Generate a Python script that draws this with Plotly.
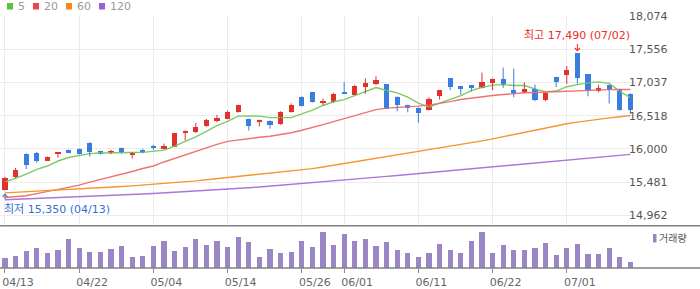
import plotly.graph_objects as go

dates = ["04/13", "04/14", "04/15", "04/16", "04/17", "04/20", "04/21", "04/22", "04/23", "04/24",
         "04/27", "04/28", "04/29", "04/30", "05/04", "05/06", "05/07", "05/08", "05/11", "05/12",
         "05/13", "05/14", "05/15", "05/18", "05/19", "05/20", "05/21", "05/22", "05/26", "05/27",
         "05/28", "05/29", "06/01", "06/02", "06/04", "06/05", "06/08", "06/09", "06/10", "06/11",
         "06/12", "06/15", "06/16", "06/17", "06/18", "06/19", "06/22", "06/23", "06/24", "06/25",
         "06/26", "06/29", "06/30", "07/01", "07/02", "07/03", "07/06", "07/07", "07/08", "07/09"]

opens = [15350, 15555, 15921, 15937, 15815, 15930, 15984, 16000, 16098, 15963,
         15932, 16015, 15922, 15968, 16030, 16000, 16036, 16240, 16267, 16350,
         16440, 16471, 16570, 16466, 16433, 16440, 16381, 16570, 16817, 16880,
         16725, 16727, 16872, 16848, 16963, 17005, 17005, 16817, 16686, 16644,
         16601, 16821, 17100, 16974, 16989, 16947, 17026, 17084, 16911, 16884,
         16942, 16770, 17120, 17147, 17490, 17167, 16906, 16994, 16937, 16864]
highs = [15564, 15701, 15930, 15950, 15880, 15945, 15990, 16005, 16105, 15973,
         15984, 16020, 15947, 16000, 16062, 16083, 16250, 16290, 16403, 16466,
         16529, 16597, 16690, 16470, 16455, 16445, 16586, 16707, 16820, 16885,
         16785, 16875, 17041, 17000, 17100, 17131, 17010, 16820, 16690, 16648,
         16806, 16915, 17105, 16978, 16993, 17189, 17100, 17268, 17252, 17041,
         17005, 16878, 17124, 17293, 17490, 17170, 17000, 17005, 16940, 16867]
lows = [15350, 15545, 15685, 15784, 15810, 15862, 15932, 15910, 15878, 15910,
        15916, 15925, 15847, 15932, 15984, 15995, 16030, 16130, 16246, 16345,
        16413, 16465, 16565, 16287, 16350, 16314, 16376, 16565, 16660, 16722,
        16680, 16722, 16860, 16845, 16859, 16994, 16625, 16586, 16570, 16408,
        16598, 16770, 16916, 16848, 16895, 16944, 16916, 16953, 16806, 16880,
        16743, 16743, 16963, 17016, 17016, 16821, 16884, 16707, 16598, 16549]
closes = [15548, 15669, 15753, 15815, 15874, 15937, 15941, 15925, 15948, 15925,
          15968, 15941, 15930, 15960, 16023, 16047, 16246, 16282, 16340, 16455,
          16487, 16581, 16686, 16361, 16440, 16372, 16570, 16691, 16664, 16727,
          16733, 16859, 16864, 16974, 17021, 17068, 16628, 16680, 16633, 16554,
          16781, 16911, 16963, 16942, 16947, 17041, 17084, 16994, 16884, 16942,
          16770, 16875, 17037, 17225, 17104, 16911, 16947, 16926, 16601, 16612]
volumes = [100000, 123000, 173000, 203000, 153000, 183000, 293000, 203000, 163000, 163000,
           193000, 223000, 113000, 123000, 223000, 273000, 173000, 213000, 293000, 233000,
           273000, 213000, 313000, 263000, 113000, 193000, 153000, 163000, 273000, 213000,
           363000, 233000, 343000, 273000, 293000, 223000, 263000, 183000, 153000, 113000,
           153000, 243000, 183000, 153000, 273000, 363000, 153000, 233000, 183000, 183000,
           203000, 253000, 133000, 203000, 243000, 143000, 143000, 203000, 113000, 63000]

ma5 = [15485, 15538, 15606, 15680, 15732, 15810, 15864, 15898, 15925, 15935,
       15941, 15941, 15942, 15945, 15964, 15980, 16041, 16112, 16188, 16274,
       16362, 16429, 16510, 16514, 16511, 16488, 16486, 16487, 16547, 16605,
       16677, 16735, 16769, 16831, 16890, 16957, 16911, 16874, 16806, 16713,
       16655, 16712, 16768, 16830, 16909, 16961, 16995, 17002, 16990, 16989,
       16935, 16893, 16902, 16970, 17002, 17030, 17045, 17023, 16898, 16799]
ma20 = [15240, 15253, 15268, 15300, 15331, 15363, 15394, 15434, 15481, 15520,
        15559, 15606, 15646, 15693, 15732, 15795, 15850, 15905, 15968, 16015,
        16070, 16117, 16141, 16164, 16180, 16196, 16219, 16251, 16290, 16329,
        16377, 16424, 16471, 16518, 16565, 16612, 16636, 16644, 16652, 16667,
        16683, 16707, 16738, 16770, 16793, 16817, 16832, 16848, 16864, 16875,
        16880, 16887, 16895, 16903, 16911, 16919, 16922, 16925, 16927, 16927]
ma60 = [15312, 15320, 15328, 15336, 15344, 15353, 15363, 15371, 15380, 15390,
        15400, 15411, 15422, 15434, 15443, 15454, 15468, 15484, 15500, 15517,
        15534, 15551, 15569, 15586, 15603, 15621, 15638, 15655, 15672, 15691,
        15716, 15743, 15767, 15795, 15822, 15848, 15875, 15900, 15927, 15952,
        15980, 16009, 16037, 16065, 16094, 16125, 16156, 16191, 16227, 16262,
        16296, 16331, 16364, 16392, 16417, 16443, 16463, 16483, 16502, 16521]
ma120 = [15206, 15212, 15218, 15225, 15232, 15239, 15245, 15251, 15258, 15264,
         15272, 15278, 15286, 15294, 15303, 15312, 15322, 15331, 15341, 15350,
         15360, 15369, 15380, 15393, 15405, 15418, 15430, 15443, 15455, 15470,
         15484, 15498, 15512, 15526, 15540, 15555, 15570, 15584, 15599, 15613,
         15628, 15643, 15657, 15672, 15687, 15701, 15715, 15731, 15746, 15760,
         15776, 15792, 15806, 15822, 15836, 15852, 15866, 15881, 15897, 15913]

price_ticks = [14962, 15481, 16000, 16518, 17037, 17556, 18074]
price_tick_text = ["14,962", "15,481", "16,000", "16,518", "17,037", "17,556", "18,074"]
date_ticks = ["04/13", "04/22", "05/04", "05/14", "05/26", "06/01", "06/11", "06/22", "07/01"]
ma_names = ["5", "20", "60", "120"]
ma_line_colors = ["#7ccb63", "#f07272", "#f7962f", "#ab76d6"]
ma_key_colors = ["#5cbf3f", "#ee4646", "#f7891c", "#9b5fd0"]
volume_label = "거래량"
high_label = "최고 17,490 (07/02)"
low_label = "최저 15,350 (04/13)"

RED = "#e0312d"
BLUE = "#3a7de0"
VOL = "#9a86c5"
FONT = "DejaVu Sans, Noto Sans CJK KR, sans-serif"

# plot-area geometry helpers (for decorations only)
W, H = 700, 289
ML, MR, MT, MB = 0, 64, 16, 21
PW, PH = W - ML - MR, H - MT - MB


def pxx(x):
    return (x - ML) / PW


def pyy(y):
    return (H - MB - y) / PH


split = pyy(225.7)

fig = go.Figure()

# moving averages
for vals, name, col in zip([ma5, ma20, ma60, ma120], ma_names, ma_line_colors):
    fig.add_trace(go.Scatter(x=dates, y=vals, mode="lines", name=name,
                             line=dict(color=col, width=1.4), hoverinfo="skip",
                             showlegend=False, xaxis="x", yaxis="y"))

# wicks and bodies
for up, col in [(True, RED), (False, BLUE)]:
    wx, wy = [], []
    bx, bbase, bh = [], [], []
    for d, o, h, l, c in zip(dates, opens, highs, lows, closes):
        if (c >= o) != up:
            continue
        wx += [d, d, None]
        wy += [l, h, None]
        lo, hi = min(o, c), max(o, c)
        if hi - lo < 20:
            mid = (hi + lo) / 2
            lo, hi = mid - 10, mid + 10
        bx.append(d)
        bbase.append(lo)
        bh.append(hi - lo)
    fig.add_trace(go.Scatter(x=wx, y=wy, mode="lines", line=dict(color=col, width=1),
                             hoverinfo="skip", showlegend=False, xaxis="x", yaxis="y"))
    fig.add_trace(go.Bar(x=bx, y=bh, base=bbase, width=0.5, marker=dict(color=col, line=dict(width=0)),
                         hoverinfo="skip", showlegend=False, xaxis="x", yaxis="y"))

# volume
fig.add_trace(go.Bar(x=dates, y=volumes, width=0.5, marker=dict(color=VOL, line=dict(width=0)),
                     hoverinfo="skip", showlegend=False, xaxis="x2", yaxis="y2"))

xr = [-0.47, len(dates) - 0.47]
fig.update_layout(
    width=W, height=H,
    margin=dict(l=ML, r=MR, t=MT, b=MB, pad=0),
    paper_bgcolor="white", plot_bgcolor="white",
    font=dict(family=FONT, size=11, color="#666666"),
    bargap=0,
    showlegend=False,
    xaxis=dict(type="category", categoryorder="array", categoryarray=dates, range=xr,
               domain=[0, 1], anchor="y", showgrid=True, gridcolor="#ececec", gridwidth=1,
               tickvals=date_ticks, showticklabels=False, ticks="", zeroline=False, showline=False),
    yaxis=dict(domain=[split, 1], range=[14800, 18074], side="right", tickvals=price_ticks,
               ticktext=price_tick_text, showgrid=True, gridcolor="#ececec", gridwidth=1,
               ticks="", ticklen=0, zeroline=False, showline=False, ticklabelstandoff=-8,
               tickfont=dict(family=FONT, size=11, color="#555555")),
    xaxis2=dict(type="category", categoryorder="array", categoryarray=dates, range=xr,
                domain=[0, 1], anchor="y2", matches="x", showgrid=False, tickvals=date_ticks,
                ticks="outside", ticklen=4, tickcolor="#888888", tickwidth=1,
                ticklabelshift=13, zeroline=False, showline=False,
                tickfont=dict(family=FONT, size=11, color="#666666")),
    yaxis2=dict(domain=[0, split], range=[0, 423000], showgrid=False, showticklabels=False,
                ticks="", zeroline=False, showline=False),
)

shapes = []
for yv in [split, 0]:
    shapes.append(dict(type="line", xref="paper", yref="paper", x0=pxx(0), x1=pxx(700),
                       y0=yv, y1=yv, line=dict(color="#808080", width=1.5), layer="above"))

annotations = []
key_x = [7, 33, 66, 99]
for kx, name, col in zip(key_x, ma_names, ma_key_colors):
    shapes.append(dict(type="rect", xref="paper", yref="paper", x0=pxx(kx), x1=pxx(kx + 6),
                       y0=pyy(9.5), y1=pyy(3), fillcolor=col, line=dict(width=0)))
    annotations.append(dict(xref="paper", yref="paper", x=pxx(kx + 9), y=pyy(6.5), text=name,
                            showarrow=False, xanchor="left", yanchor="middle",
                            font=dict(family=FONT, size=11, color="#999999")))

shapes.append(dict(type="rect", xref="paper", yref="paper", x0=pxx(653), x1=pxx(656.5),
                   y0=pyy(242.5), y1=pyy(234), fillcolor=VOL, line=dict(width=0)))
annotations.append(dict(xref="paper", yref="paper", x=pxx(657), y=pyy(238), text=volume_label,
                        showarrow=False, xanchor="left", yanchor="middle",
                        font=dict(family=FONT, size=10, color="#555555")))

hi_i = highs.index(max(highs))
lo_i = lows.index(min(lows))
annotations.append(dict(x=dates[hi_i], y=highs[hi_i], xref="x", yref="y", text="",
                        showarrow=True, ax=0, ay=-11, arrowhead=4, arrowsize=1, arrowwidth=1,
                        arrowcolor="#ee2a2a", standoff=2))
annotations.append(dict(x=dates[hi_i], y=highs[hi_i], xref="x", yref="y", text=high_label,
                        showarrow=False, xanchor="center", yanchor="middle", yshift=18,
                        font=dict(family=FONT, size=11, color="#ee2a2a")))
annotations.append(dict(x=dates[lo_i], y=lows[lo_i], xref="x", yref="y", text="",
                        showarrow=True, ax=0, ay=10, arrowhead=4, arrowsize=1, arrowwidth=1,
                        arrowcolor="#3570d4", standoff=3))
annotations.append(dict(x=dates[lo_i], y=lows[lo_i], xref="x", yref="y", text=low_label,
                        showarrow=False, xanchor="left", yanchor="middle", xshift=-3, yshift=-19,
                        font=dict(family=FONT, size=11, color="#3570d4")))

fig.update_layout(shapes=shapes, annotations=annotations)
fig.write_html("out.html")
